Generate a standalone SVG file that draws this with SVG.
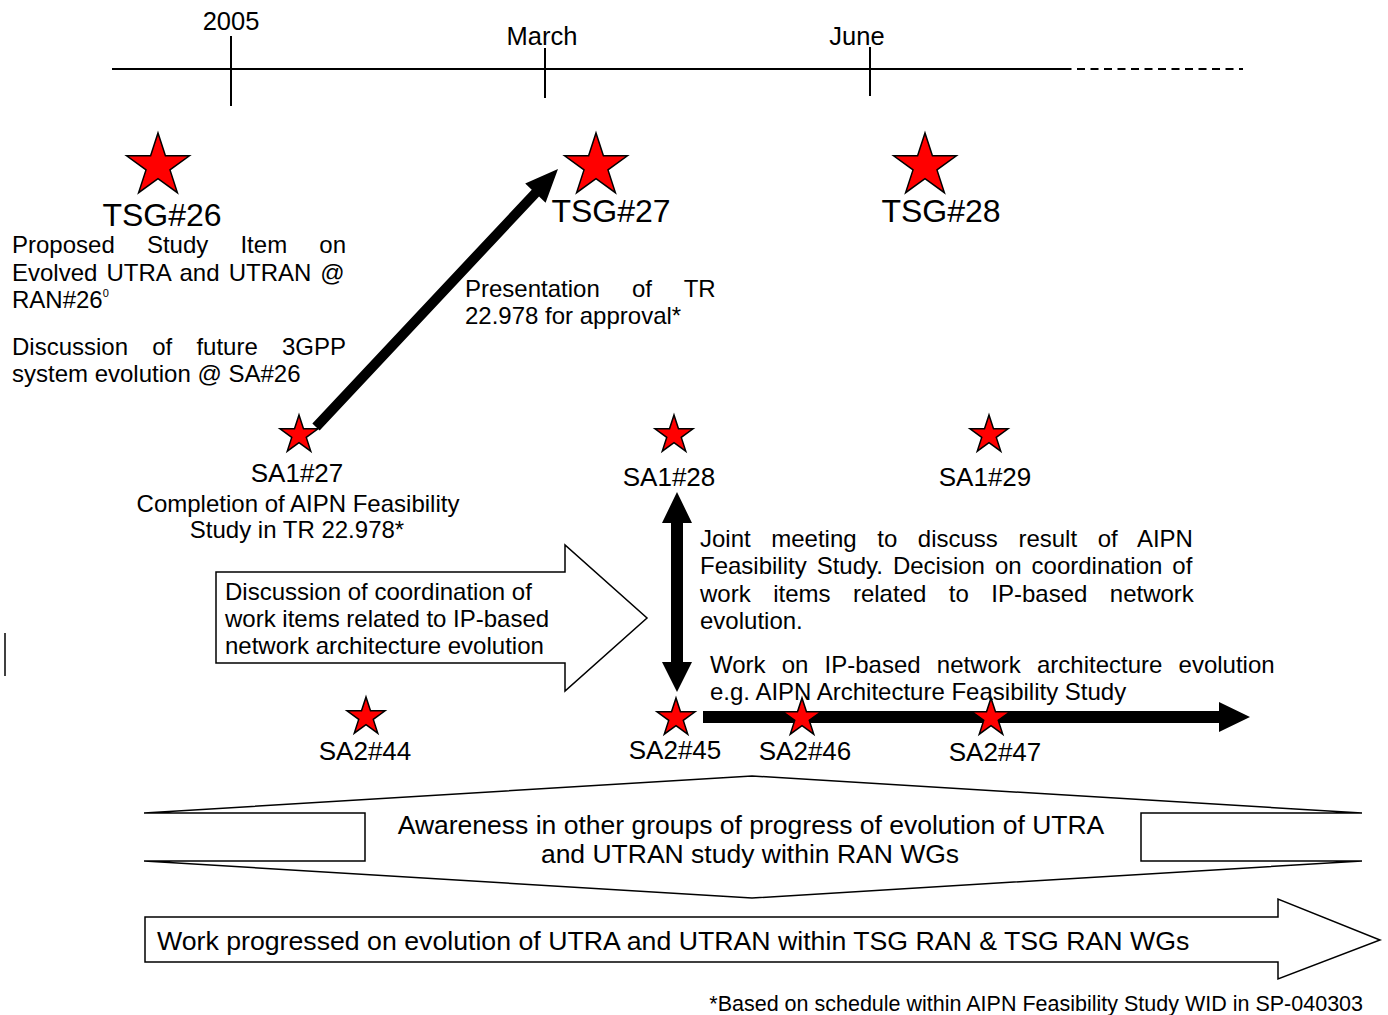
<svg xmlns="http://www.w3.org/2000/svg" width="1388" height="1015" viewBox="0 0 1388 1015">
<defs>
<style>
text{font-family:"Liberation Sans",Arial,Helvetica,sans-serif;fill:#000}
.t24{font-size:24px}
.t26{font-size:26.5px}
.tsg{font-size:32px;text-anchor:middle}
.sa{font-size:26px;text-anchor:middle}
.mo{font-size:25.5px;text-anchor:middle}
.star{fill:#ff0000;stroke:#000;stroke-width:1.5}
.ln{stroke:#000;stroke-width:2;fill:none}
.blk{fill:#fff;stroke:#000;stroke-width:1.5}
.conn{fill:#000;stroke:none}
.mid{text-anchor:middle}
</style>
<path id="bigstar" d="M0,-33 L7.41,-10.19 L31.38,-10.2 L11.98,3.89 L19.4,26.7 L0,12.6 L-19.4,26.7 L-11.98,3.89 L-31.38,-10.2 L-7.41,-10.19 Z"/>
<path id="smallstar" d="M0,-20 L4.49,-6.18 L19.02,-6.18 L7.27,2.36 L11.76,16.18 L0,7.64 L-11.76,16.18 L-7.27,2.36 L-19.02,-6.18 L-4.49,-6.18 Z"/>
</defs>
<rect width="1388" height="1015" fill="#fff"/>

<g id="timeline">
<line class="ln" x1="112" y1="69" x2="1068" y2="69"/>
<line class="ln" x1="1023" y1="69" x2="1243" y2="69" stroke-dasharray="8 5.5"/>
<line class="ln" x1="231" y1="36" x2="231" y2="106"/>
<line class="ln" x1="545" y1="48" x2="545" y2="98"/>
<line class="ln" x1="870" y1="47" x2="870" y2="96"/>
<text class="mo" x="231" y="30">2005</text>
<text class="mo" x="542" y="45">March</text>
<text class="mo" x="857" y="45">June</text>
</g>

<g id="tsg26">
<use href="#bigstar" class="star" transform="translate(158,166)"/>
<text class="tsg" x="162" y="226">TSG#26</text>
</g>
<g id="tsg26-notes">
<text class="t24" x="12" y="253" word-spacing="25.5">Proposed Study Item on</text>
<text class="t24" x="12" y="281" word-spacing="2.4">Evolved UTRA and UTRAN @</text>
<text class="t24" x="12" y="308">RAN#26<tspan font-size="11" dy="-11">0</tspan></text>
<text class="t24" x="12" y="355" word-spacing="17.5">Discussion of future 3GPP</text>
<text class="t24" x="12" y="382">system evolution @ SA#26</text>
</g>

<g id="tsg27">
<use href="#bigstar" class="star" transform="translate(596,166)"/>
<text class="tsg" x="611" y="222">TSG#27</text>
</g>
<g id="tsg27-notes">
<text class="t24" x="465" y="297" word-spacing="25.5">Presentation of TR</text>
<text class="t24" x="465" y="324">22.978 for approval*</text>
</g>

<g id="tsg28">
<use href="#bigstar" class="star" transform="translate(925,166)"/>
<text class="tsg" x="941" y="222">TSG#28</text>
</g>

<g id="sa1-27">
<use href="#smallstar" class="star" transform="translate(299,435)"/>
<text class="sa" x="297" y="482">SA1#27</text>
<text class="t24 mid" x="298" y="512">Completion of AIPN Feasibility</text>
<text class="t24 mid" x="297" y="538">Study in TR 22.978*</text>
</g>
<g id="sa1-28">
<use href="#smallstar" class="star" transform="translate(674,435)"/>
<text class="sa" x="669" y="486">SA1#28</text>
</g>
<g id="sa1-29">
<use href="#smallstar" class="star" transform="translate(989,435)"/>
<text class="sa" x="985" y="486">SA1#29</text>
</g>

<g id="joint-meeting">
<text class="t24" x="700" y="547" word-spacing="13.9">Joint meeting to discuss result of AIPN</text>
<text class="t24" x="700" y="574" word-spacing="3.3">Feasibility Study. Decision on coordination of</text>
<text class="t24" x="700" y="602" word-spacing="15.8">work items related to IP-based network</text>
<text class="t24" x="700" y="629">evolution.</text>
</g>

<g id="discussion-arrow">
<polygon class="blk" points="216,572 565,572 565,545 647,618 565,691 565,663 216,663"/>
<text class="t24" x="225" y="600">Discussion of coordination of</text>
<text class="t24" x="225" y="627">work items related to IP-based</text>
<text class="t24" x="225" y="654">network architecture evolution</text>
</g>

<g id="cursor">
<line x1="5" y1="633" x2="5" y2="676" stroke="#000" stroke-width="1.5"/>
</g>

<g id="work-ip">
<text class="t24" x="710" y="673" word-spacing="9.5">Work on IP-based network architecture evolution</text>
<text class="t24" x="710" y="700">e.g. AIPN Architecture Feasibility Study</text>
</g>

<g id="connectors">
<polygon class="conn" points="312.35,423.6 531.75,189.7 525.2,183.5 558,169 545.6,202.7 539.05,196.5 319.65,430.4"/>
<polygon class="conn" points="677,492 692,523 683,523 683,662 692,662 677,692 662,662 671,662 671,523 662,523"/>
<polygon class="conn" points="703,711 1219,711 1219,702 1250,717 1219,732 1219,723 703,723"/>
</g>

<g id="sa2-44">
<use href="#smallstar" class="star" transform="translate(366,717)"/>
<text class="sa" x="365" y="760">SA2#44</text>
</g>
<g id="sa2-45">
<use href="#smallstar" class="star" transform="translate(676,718)"/>
<text class="sa" x="675" y="759">SA2#45</text>
</g>
<g id="sa2-46">
<use href="#smallstar" class="star" transform="translate(802,718)"/>
<text class="sa" x="805" y="760">SA2#46</text>
</g>
<g id="sa2-47">
<use href="#smallstar" class="star" transform="translate(991,718)"/>
<text class="sa" x="995" y="761">SA2#47</text>
</g>

<g id="awareness">
<polygon class="blk" points="752,776 1362,813 1141,813 1141,861 1362,861 752,898 144,861 365,861 365,813 144,813"/>
<text class="t26 mid" x="751" y="834">Awareness in other groups of progress of evolution of UTRA</text>
<text class="t26 mid" x="750" y="863">and UTRAN study within RAN WGs</text>
</g>

<g id="work-progressed">
<polygon class="blk" points="145,917 1278,917 1278,899 1380,940 1278,979 1278,962 145,962"/>
<text x="157" y="950" font-size="26.7">Work progressed on evolution of UTRA and UTRAN within TSG RAN &amp; TSG RAN WGs</text>
</g>

<g id="footnote">
<text x="1363" y="1011" font-size="21.5" text-anchor="end">*Based on schedule within AIPN Feasibility Study WID in SP-040303</text>
</g>
</svg>
